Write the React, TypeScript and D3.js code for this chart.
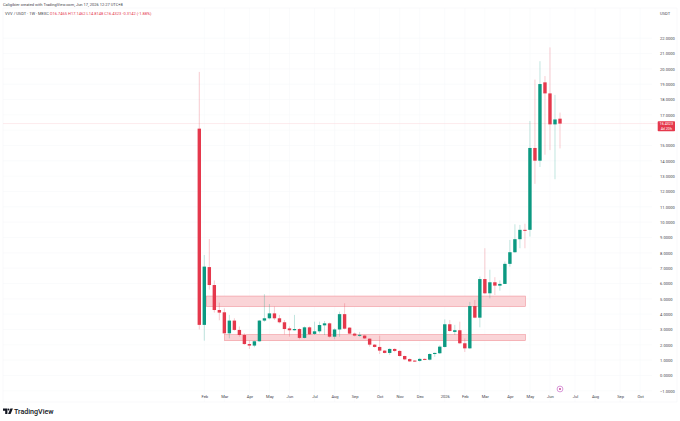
import { useEffect, useRef } from 'react';
import * as d3 from 'd3';

const opens = [16.1, 3.3, 7.07, 5.9, 4.27, 4.12, 2.75, 3.58, 2.97, 2.64, 2.05, 1.95, 2.23, 3.58, 3.73, 4.05, 3.73, 3.47, 3.07, 2.95, 3.03, 2.45, 3.14, 2.71, 2.88, 3.27, 3.4, 2.53, 3.0, 4.0, 3.12, 2.73, 2.6, 2.6, 2.4, 2.01, 1.86, 1.62, 1.47, 1.73, 1.6, 1.27, 1.07, 0.97, 0.95, 1.08, 1.03, 1.4, 1.45, 1.86, 3.34, 2.84, 2.95, 2.1, 1.77, 4.53, 3.77, 6.29, 5.36, 6.08, 5.86, 5.97, 7.28, 8.04, 8.89, 9.5, 9.5, 14.84, 14.01, 19.12, 18.4, 16.38, 16.75];
const highs = [19.8, 7.86, 8.9, 6.2, 4.75, 4.38, 3.95, 3.73, 3.2, 2.75, 2.27, 2.27, 3.62, 5.3, 4.66, 4.49, 3.95, 3.62, 3.2, 3.95, 3.08, 3.2, 3.2, 3.51, 3.51, 3.55, 3.45, 3.08, 4.16, 4.71, 3.15, 2.8, 2.84, 2.65, 2.42, 2.05, 2.6, 1.66, 1.78, 1.78, 1.65, 1.3, 1.12, 1.01, 1.15, 1.12, 1.45, 1.5, 1.97, 3.66, 3.62, 3.3, 3.51, 2.42, 4.8, 4.92, 6.45, 8.3, 6.9, 6.41, 6.2, 7.43, 8.84, 9.86, 9.82, 9.9, 16.6, 19.3, 20.5, 19.53, 21.4, 18.3, 17.15];
const lows = [3.0, 2.27, 5.6, 4.1, 3.6, 2.72, 2.42, 2.92, 2.53, 2.0, 1.73, 1.84, 2.2, 3.5, 3.66, 3.62, 3.4, 2.68, 2.53, 2.92, 2.36, 2.42, 2.64, 2.64, 2.75, 2.64, 2.47, 2.36, 2.53, 3.0, 2.7, 2.55, 2.52, 2.38, 1.88, 1.82, 1.4, 1.44, 1.34, 1.52, 1.23, 1.0, 0.88, 0.88, 0.9, 1.0, 0.98, 1.22, 1.4, 1.82, 2.86, 2.64, 2.05, 1.53, 1.72, 3.73, 3.14, 5.3, 5.03, 5.25, 5.53, 5.97, 7.1, 8.0, 8.3, 8.3, 9.06, 12.5, 13.6, 14.4, 14.7, 12.8, 14.81];
const closes = [3.3, 7.1, 5.9, 4.27, 4.1, 2.75, 3.58, 2.97, 2.64, 2.05, 1.95, 2.23, 3.58, 3.73, 4.05, 3.73, 3.47, 3.03, 2.95, 3.03, 2.45, 3.14, 2.68, 2.88, 3.29, 3.4, 2.53, 3.0, 4.0, 3.05, 2.73, 2.6, 2.65, 2.42, 2.01, 1.86, 1.62, 1.47, 1.73, 1.6, 1.27, 1.05, 0.92, 0.92, 1.08, 1.04, 1.4, 1.47, 1.88, 3.34, 2.9, 2.95, 2.1, 1.77, 4.53, 3.77, 6.29, 5.36, 6.08, 5.86, 5.97, 7.28, 8.04, 8.89, 9.5, 9.45, 14.84, 14.01, 19.01, 18.4, 16.38, 16.7, 16.43];

const monthLabels = ['Feb', 'Mar', 'Apr', 'May', 'Jun', 'Jul', 'Aug', 'Sep', 'Oct', 'Nov', 'Dec', '2026', 'Feb', 'Mar', 'Apr', 'May', 'Jun', 'Jul', 'Aug', 'Sep', 'Oct'];
const monthIndex = [1, 5, 10, 14, 18, 23, 27, 31, 36, 40, 44, 49, 53, 57, 62, 66, 70, 75, 79, 84, 88];
const priceTicks = d3.range(-1, 23);
// 16 sits under the last price label
const priceLabels = priceTicks.filter(d => d !== 16);

// zones: [from bar, to bar, low price, high price]
const zones = [
  [1.4, 65.1, 4.5, 5.18],
  [5, 65.1, 2.27, 2.66],
];

const lastPrice = 16.4323;
const up = '#0b9981';
const down = '#e5384c';
const font = 'Roboto, sans-serif';
const grey = '#3f434b';

const App = () => {
  const ref = useRef<SVGSVGElement>(null);

  useEffect(() => {
    const svg = d3.select(ref.current);
    svg.selectAll('*').remove();

    const x = d3.scaleLinear().domain([0, 72]).range([199.3, 560]);
    const y = d3.scaleLinear().domain([-1, 22]).range([390.8, 38.2]);

    // grid
    svg.append('g').selectAll('line').data(monthIndex).enter().append('line')
      .attr('x1', d => x(d)).attr('x2', d => x(d))
      .attr('y1', 8).attr('y2', 402)
      .attr('stroke', '#f7f8fa').attr('stroke-width', 0.6);
    svg.append('g').selectAll('line').data(priceTicks).enter().append('line')
      .attr('x1', 3).attr('x2', 652)
      .attr('y1', d => y(d)).attr('y2', d => y(d))
      .attr('stroke', '#f7f8fa').attr('stroke-width', 0.6);

    // frame
    svg.append('rect').attr('x', 3).attr('y', 8).attr('width', 674).attr('height', 394)
      .attr('fill', 'none').attr('stroke', '#f2f3f5').attr('stroke-width', 0.5);

    // zones
    svg.append('g').selectAll('rect').data(zones).enter().append('rect')
      .attr('x', d => x(d[0]))
      .attr('y', d => y(d[3]))
      .attr('width', d => x(d[1]) - x(d[0]))
      .attr('height', d => y(d[2]) - y(d[3]))
      .attr('fill', '#f9cdd0')
      .attr('fill-opacity', 0.85)
      .attr('stroke', '#f0939b')
      .attr('stroke-width', 0.6);

    // last price line
    svg.append('line')
      .attr('x1', 3).attr('x2', 658)
      .attr('y1', y(lastPrice)).attr('y2', y(lastPrice))
      .attr('stroke', '#fbdde0').attr('stroke-width', 0.6);

    // candles
    const candles = svg.append('g').selectAll('g').data(opens).enter().append('g');
    candles.append('line')
      .attr('x1', (_, i) => x(i)).attr('x2', (_, i) => x(i))
      .attr('y1', (_, i) => y(highs[i])).attr('y2', (_, i) => y(lows[i]))
      .attr('stroke', (d, i) => (closes[i] >= d ? up : down))
      .attr('stroke-opacity', 0.32)
      .attr('stroke-width', 0.8);
    candles.append('rect')
      .attr('x', (_, i) => x(i) - 1.7)
      .attr('width', 3.4)
      .attr('y', (d, i) => y(Math.max(d, closes[i])))
      .attr('height', (d, i) => Math.max(1, Math.abs(y(d) - y(closes[i]))))
      .attr('fill', (d, i) => (closes[i] >= d ? up : down));

    // price axis
    const yAxis = svg.append('g')
      .attr('transform', 'translate(654,0)')
      .call(d3.axisRight(y).tickValues(priceLabels).tickSize(0).tickPadding(6).tickFormat(d3.format('.4f')));
    yAxis.select('.domain').remove();
    yAxis.selectAll('text').attr('font-family', font).attr('font-size', 4.1).attr('fill', grey);

    // time axis
    const xAxis = svg.append('g')
      .attr('transform', 'translate(0,392)')
      .call(d3.axisBottom(x).tickValues(monthIndex).tickSize(0).tickPadding(3)
        .tickFormat((_, i) => monthLabels[i]));
    xAxis.select('.domain').remove();
    xAxis.selectAll('text').attr('font-family', font).attr('font-size', 4.1).attr('fill', grey);

    svg.append('text').text('USDT')
      .attr('x', 660).attr('y', 15)
      .attr('font-family', font).attr('font-size', 4.1).attr('fill', grey);

    // price label
    svg.append('rect')
      .attr('x', 657.7).attr('y', y(lastPrice) - 2.4).attr('width', 17.3).attr('height', 10.2)
      .attr('rx', 0.8).attr('fill', down);
    svg.append('text').text(lastPrice.toFixed(4))
      .attr('x', 666.3).attr('y', y(lastPrice) + 1.2)
      .attr('text-anchor', 'middle')
      .attr('font-family', font).attr('font-size', 3.7).attr('fill', '#fff');
    svg.append('text').text('4d 20h')
      .attr('x', 666.3).attr('y', y(lastPrice) + 6.4)
      .attr('text-anchor', 'middle')
      .attr('font-family', font).attr('font-size', 3.7).attr('fill', '#fff');

    // header
    svg.append('text').text('Caligibier created with TradingView.com, Jun 17, 2026 12:27 UTC+8')
      .attr('x', 3).attr('y', 5.8)
      .attr('font-family', font).attr('font-size', 4).attr('fill', grey);
    const legend = svg.append('text').attr('x', 5).attr('y', 14.5)
      .attr('font-family', font).attr('font-size', 4).attr('fill', down);
    legend.append('tspan').text('VVV / USDT · 1W · MEXC ').attr('fill', grey);
    legend.append('tspan').text('O16.7465 H17.1462 L14.8148 C16.4323 -0.3142 (-1.88%)');

    // event marker
    svg.append('circle').attr('cx', 560).attr('cy', 389).attr('r', 2.9)
      .attr('fill', '#fff').attr('stroke', '#c86bc8').attr('stroke-width', 0.7);
    svg.append('circle').attr('cx', 560).attr('cy', 389).attr('r', 0.9).attr('fill', '#c2388f');

    // logo
    const logo = svg.append('g').attr('fill', '#131722');
    logo.append('path').attr('d', 'M3 408.5h4.4v5.4h-2.2v-3.2H3z');
    logo.append('circle').attr('cx', 8.5).attr('cy', 409.5).attr('r', 0.95);
    logo.append('path').attr('d', 'M10.4 408.5h2.5l-2.3 5.4H8.1z');
    svg.append('text').text('TradingView')
      .attr('x', 14).attr('y', 414)
      .attr('font-family', font).attr('font-size', 7.1).attr('font-weight', 500).attr('fill', '#131722');
  }, []);

  return <svg ref={ref} width={680} height={421} style={{ position: 'absolute', left: 0, top: 0, background: '#fff' }} />;
};

export default App;
